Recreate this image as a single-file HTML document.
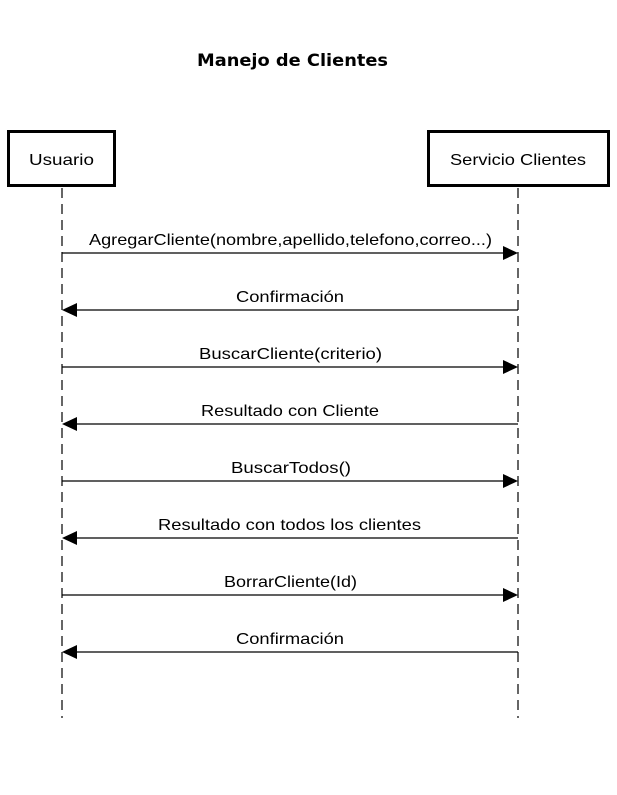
<!DOCTYPE html>
<html><head><meta charset="utf-8"><style>
body{margin:0;background:#fff;width:617px;height:790px;overflow:hidden}
svg text{font-family:"Liberation Sans",sans-serif}
</style></head><body>
<svg width="617" height="790" xmlns="http://www.w3.org/2000/svg">
<text x="197" y="66" font-size="17" font-weight="bold" textLength="191" lengthAdjust="spacingAndGlyphs" style="font-family:'DejaVu Sans','Liberation Sans',sans-serif">Manejo de Clientes</text>
<rect x="8.5" y="131.5" width="106" height="54" fill="#fff" stroke="#000" stroke-width="3"/>
<rect x="428.5" y="131.5" width="180" height="54" fill="#fff" stroke="#000" stroke-width="3"/>
<g font-size="16" lengthAdjust="spacingAndGlyphs">
<text x="29" y="165" textLength="65" lengthAdjust="spacingAndGlyphs">Usuario</text>
<text x="450" y="165" textLength="136" lengthAdjust="spacingAndGlyphs">Servicio Clientes</text>
</g>
<g stroke="#000" stroke-width="1.2" stroke-dasharray="10,6">
<line x1="62" y1="188" x2="62" y2="718"/>
<line x1="518" y1="188" x2="518" y2="718"/>
</g>
<g stroke="#000" stroke-width="1.2">
<line x1="62" y1="253" x2="505" y2="253"/>
<line x1="75" y1="310" x2="518" y2="310"/>
<line x1="62" y1="367" x2="505" y2="367"/>
<line x1="75" y1="424" x2="518" y2="424"/>
<line x1="62" y1="481" x2="505" y2="481"/>
<line x1="75" y1="538" x2="518" y2="538"/>
<line x1="62" y1="595" x2="505" y2="595"/>
<line x1="75" y1="652" x2="518" y2="652"/>
</g>
<g fill="#000">
<polygon points="518,253 503,246 503,260"/>
<polygon points="62,310 77,303 77,317"/>
<polygon points="518,367 503,360 503,374"/>
<polygon points="62,424 77,417 77,431"/>
<polygon points="518,481 503,474 503,488"/>
<polygon points="62,538 77,531 77,545"/>
<polygon points="518,595 503,588 503,602"/>
<polygon points="62,652 77,645 77,659"/>
</g>
<g font-size="16">
<text x="89" y="245" textLength="403" lengthAdjust="spacingAndGlyphs">AgregarCliente(nombre,apellido,telefono,correo...)</text>
<text x="236" y="302" textLength="108" lengthAdjust="spacingAndGlyphs">Confirmación</text>
<text x="199" y="359" textLength="183" lengthAdjust="spacingAndGlyphs">BuscarCliente(criterio)</text>
<text x="201" y="416" textLength="178" lengthAdjust="spacingAndGlyphs">Resultado con Cliente</text>
<text x="231" y="473" textLength="120" lengthAdjust="spacingAndGlyphs">BuscarTodos()</text>
<text x="158" y="530" textLength="263" lengthAdjust="spacingAndGlyphs">Resultado con todos los clientes</text>
<text x="224" y="587" textLength="133" lengthAdjust="spacingAndGlyphs">BorrarCliente(Id)</text>
<text x="236" y="644" textLength="108" lengthAdjust="spacingAndGlyphs">Confirmación</text>
</g>
</svg>
</body></html>
